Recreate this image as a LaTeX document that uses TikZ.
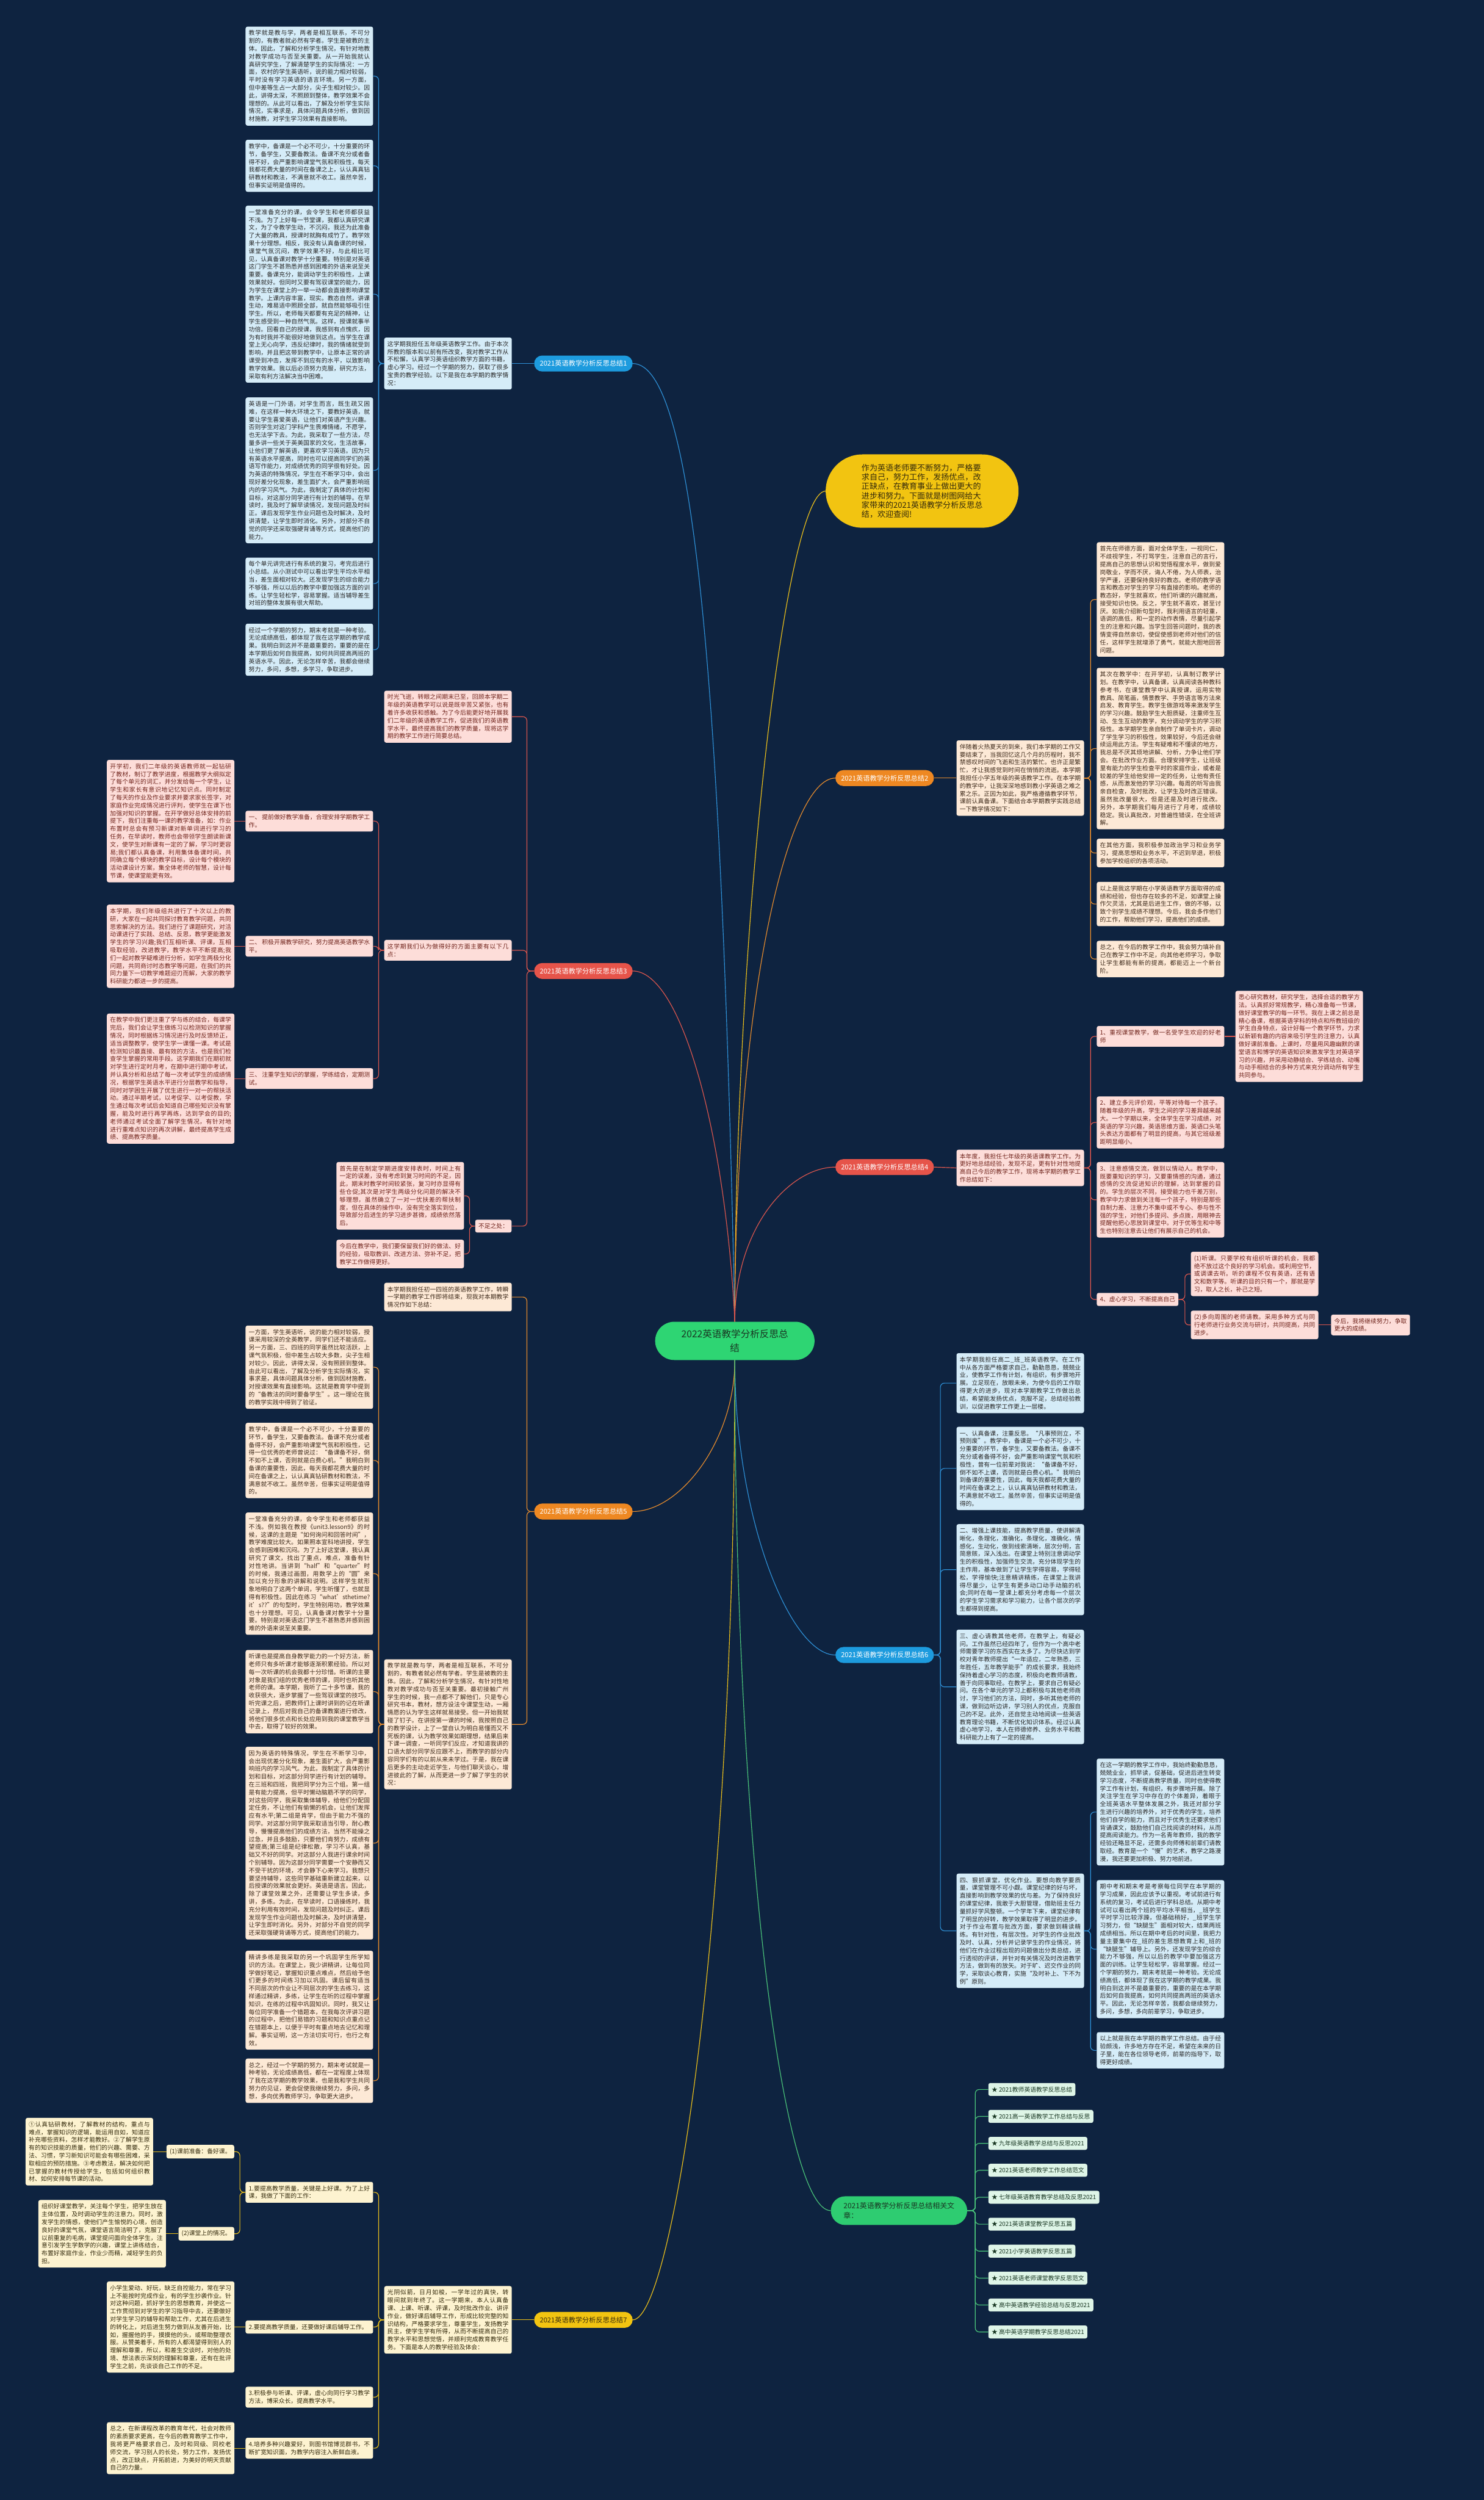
\documentclass[tikz,border=0pt]{standalone}
\usepackage{fontspec}
\setmainfont{Noto Sans CJK SC}
\XeTeXlinebreaklocale "zh"
\XeTeXlinebreakskip=0pt plus 1pt
\tolerance=9999
\hbadness=10000
\hfuzz=3pt

\definecolor{bg}{RGB}{14,35,64}
\definecolor{bluel}{RGB}{46,144,214}
\definecolor{bluepill}{RGB}{29,155,222}
\definecolor{bluefill}{RGB}{213,236,248}
\definecolor{bluetext}{RGB}{40,40,40}
\definecolor{orangel}{RGB}{231,140,45}
\definecolor{orangepill}{RGB}{238,136,34}
\definecolor{orangefill}{RGB}{253,233,214}
\definecolor{orangetext}{RGB}{62,42,26}
\definecolor{redl}{RGB}{220,86,78}
\definecolor{redpill}{RGB}{230,84,74}
\definecolor{redfill}{RGB}{253,221,217}
\definecolor{redtext}{RGB}{112,36,28}
\definecolor{yellowl}{RGB}{236,192,26}
\definecolor{yellowpill}{RGB}{242,196,17}
\definecolor{yellowfill}{RGB}{253,243,208}
\definecolor{yellowtext}{RGB}{52,42,12}
\definecolor{greenl}{RGB}{74,196,122}
\definecolor{greenpill}{RGB}{46,204,113}
\definecolor{greenfill}{RGB}{222,245,231}
\definecolor{greentext}{RGB}{25,55,35}
\definecolor{rootfill}{RGB}{46,213,115}

\begin{document}
\begin{tikzpicture}[x=1mm, y=-1mm,
  cellbase/.style={rounded corners=1.2mm, inner xsep=2mm, inner ysep=2.3mm, font=\fontsize{10.7pt}{13.94pt}\selectfont},
  cellwide/.style={cellbase, text width=76mm, align=justify},
  bluecell/.style={cellwide, fill=bluefill, text=bluetext},
  orangecell/.style={cellwide, fill=orangefill, text=orangetext},
  redcell/.style={cellwide, fill=redfill, text=redtext},
  yellowcell/.style={cellwide, fill=yellowfill, text=yellowtext},
  redtag/.style={cellbase, fill=redfill, text=redtext},
  yellowtag/.style={cellbase, fill=yellowfill, text=yellowtext},
  greentag/.style={cellbase, fill=greenfill, text=greentext},
  topic/.style={rounded corners=5mm, minimum height=10mm, inner xsep=3.5mm, inner ysep=1mm, font=\fontsize{12.2pt}{14pt}\selectfont},
  branchlink/.style={line width=0.45mm, rounded corners=2.5mm},
  rootlink/.style={line width=0.45mm}]

  \useasboundingbox (0,0) rectangle (931,1568);
  \fill[bg] (0,0) rectangle (931,1568);

  \node[fill=rootfill, text=greentext, rounded corners=12mm, minimum width=100mm, minimum height=24mm, align=center, font=\fontsize{17pt}{25pt}\selectfont] (root) at (461,841) {2022英语教学分析反思总\\结};

  \node[fill=yellowpill, text=yellowtext, rounded corners=23mm, minimum width=121mm, minimum height=46mm, align=left, font=\fontsize{14.2pt}{16.6pt}\selectfont] (lead) at (578.5,308) {作为英语老师要不断努力，严格要\\求自己，努力工作，发扬优点，改\\正缺点，在教育事业上做出更大的\\进步和努力。下面就是树图网给大\\家带来的2021英语教学分析反思总\\结，欢迎查阅!};

  \node[topic, fill=bluepill, text=white] (b1) at (366,228) {2021英语教学分析反思总结1};
  \node[topic, fill=orangepill, text=white] (b2) at (555,488) {2021英语教学分析反思总结2};
  \node[topic, fill=redpill, text=white] (b3) at (366,609) {2021英语教学分析反思总结3};
  \node[topic, fill=redpill, text=white] (b4) at (555,732) {2021英语教学分析反思总结4};
  \node[topic, fill=orangepill, text=white] (b5) at (366,948) {2021英语教学分析反思总结5};
  \node[topic, fill=bluepill, text=white] (b6) at (555,1038) {2021英语教学分析反思总结6};
  \node[topic, fill=yellowpill, text=yellowtext] (b7) at (366,1455) {2021英语教学分析反思总结7};
  \node[topic, fill=greenpill, text=greentext, rounded corners=9mm, minimum height=18mm, inner xsep=8mm, align=left, font=\fontsize{13pt}{17pt}\selectfont] (b8) at (564,1386.5) {2021英语教学分析反思总结相关文\\章：};

  \node[bluecell, anchor=west] (b1i) at (241,228) {这学期我担任五年级英语教学工作。由于本次所教的版本和以前有所改变，我对教学工作从不松懈，认真学习英语组织教学方面的书籍，虚心学习。经过一个学期的努力，获取了很多宝贵的教学经验。以下是我在本学期的教学情况：};
  \node[bluecell, anchor=west] (b1c1) at (154,47.75) {教学就是教与学，两者是相互联系，不可分割的，有教者就必然有学者。学生是被教的主体。因此，了解和分析学生情况，有针对地教对教学成功与否至关重要。从一开始我就认真研究学生，了解清楚学生的实际情况：一方面，农村的学生英语听，说的能力相对较弱，平时没有学习英语的语言环境。另一方面，但中差等生占一大部分，尖子生相对较少。因此，讲得太深，不照顾到整体，教学效果不会理想的。从此可以看出，了解及分析学生实际情况，实事求是，具体问题具体分析，做到因材施教，对学生学习效果有直接影响。};
  \node[bluecell, anchor=west] (b1c2) at (154,104) {教学中，备课是一个必不可少，十分重要的环节，备学生，又要备教法。备课不充分或者备得不好，会严重影响课堂气氛和积极性，每天我都花费大量的时间在备课之上，认认真真钻研教材和教法，不满意就不收工。虽然辛苦，但事实证明是值得的。};
  \node[bluecell, anchor=west] (b1c3) at (154,184.5) {一堂准备充分的课，会令学生和老师都获益不浅。为了上好每一节堂课，我都认真研究课文，为了令教学生动，不沉闷，我还为此准备了大量的教具，授课时就胸有成竹了。教学效果十分理想。相反，我没有认真备课的时候，课堂气氛沉闷，教学效果不好，与此相比可见，认真备课对教学十分重要。特别是对英语这门学生不甚熟悉并感到困难的外语来说至关重要。备课充分，能调动学生的积极性，上课效果就好。但同时又要有驾驭课堂的能力，因为学生在课堂上的一举一动都会直接影响课堂教学。上课内容丰富，现实。教态自然，讲课生动，难易适中照顾全部，就自然能够吸引住学生。所以，老师每天都要有充足的精神，让学生感受到一种自然气氛。这样，授课就事半功倍。回看自己的授课，我感到有点愧疚，因为有时我并不能很好地做到这点。当学生在课堂上无心向学，违反纪律时，我的情绪就受到影响，并且把这带到教学中，让原本正常的讲课受到冲击，发挥不到应有的水平，以致影响教学效果。我以后必须努力克服，研究方法，采取有利方法解决当中困难。};
  \node[bluecell, anchor=west] (b1c4) at (154,295) {英语是一门外语，对学生而言，既生疏又困难，在这样一种大环境之下，要教好英语，就要让学生喜爱英语，让他们对英语产生兴趣。否则学生对这门学科产生畏难情绪，不愿学，也无法学下去。为此，我采取了一些方法，尽量多讲一些关于英美国家的文化，生活故事，让他们更了解英语，更喜欢学习英语。因为只有英语水平提高，同时也可以提高同学们的英语写作能力，对成绩优秀的同学很有好处。因为英语的特殊情况，学生在不断学习中，会出现好差分化现象，差生面扩大，会严重影响班内的学习风气。为此，我制定了具体的计划和目标，对这部分同学进行有计划的辅导。在早读时，我及时了解早读情况，发现问题及时纠正。课后发现学生作业问题也及时解决，及时讲清楚，让学生即时消化。另外，对部分不自觉的同学还采取强硬背诵等方式，提高他们的能力。};
  \node[bluecell, anchor=west] (b1c5) at (154,366) {每个单元讲完进行有系统的复习，考完后进行小总结。从小测试中可以看出学生平均水平相当，差生面相对较大。还发现学生的综合能力不够强，所以以后的教学中要加强这方面的训练。让学生轻松学，容易掌握。适当辅导差生对班的整体发展有很大帮助。};
  \node[bluecell, anchor=west] (b1c6) at (154,407.5) {经过一个学期的努力，期末考就是一种考验。无论成绩高低，都体现了我在这学期的教学成果。我明白到这并不是最重要的，重要的是在本学期后如何自我提高，如何共同提高两班的英语水平。因此，无论怎样辛苦，我都会继续努力，多问，多想，多学习，争取进步。};

  \node[orangecell, anchor=west] (b2i) at (600,488) {伴随着火热夏天的到来，我们本学期的工作又要结束了，当我回忆这几个月的历程时，我不禁感叹时间的飞逝和生活的繁忙。也许正是繁忙，才让我感觉到时间在悄悄的流逝。本学期我担任小学五年级的英语教学工作。在本学期的教学中，让我深深地感到教小学英语之难之累之乐。正因为如此，我严格遵循教学环节，课前认真备课。下面结合本学期教学实践总结一下教学情况如下：};
  \node[orangecell, anchor=west] (b2c1) at (688,376) {首先在师德方面，面对全体学生，一视同仁，不歧视学生，不打骂学生，注意自己的言行，提高自己的思想认识和觉悟程度水平，做到爱岗敬业，学而不厌，诲人不倦，为人师表，治学严谨，还要保持良好的教态。老师的教学语言和教态对学生的学习有直接的影响。老师的教态好，学生就喜欢，他们听课的兴趣就高，接受知识也快。反之，学生就不喜欢，甚至讨厌。如我介绍新句型时，我利用语言的轻重，语调的高低，和一定的动作表情，尽量引起学生的注意和兴趣。当学生回答问题时，我的表情变得自然亲切，使促使感到老师对他们的信任，这样学生就增添了勇气，就能大胆地回答问题。};
  \node[orangecell, anchor=west] (b2c2) at (688,469.5) {其次在教学中：在开学初，认真制订教学计划。在教学中，认真备课，认真阅读各种教科参考书，在课堂教学中认真授课，运用实物教具、简笔画，情景教学、手势语言等方法来启发、教育学生。教学生做游戏等来激发学生的学习兴趣。鼓励学生大胆质疑，注重师生互动、生生互动的教学，充分调动学生的学习积极性。本学期学生亲自制作了单词卡片，调动了学生学习的积极性，效果较好，今后还会继续运用此方法。学生有疑难和不懂读的地方，我总是不厌其烦地讲解、分析，力争让他们学会。在批改作业方面。合理安排学生，让班级里有能力的学生检查平时的家庭作业，或者是较差的学生给他安排一定的任务，让他有责任感，从而激发他的学习兴趣。每周的听写由我亲自检查，及时批改，让学生及时改正错误。虽然批改量很大，但是还是及时进行批改。另外，本学期我们每月进行了月考，成绩较稳定。我认真批改，对普遍性错误，在全班讲解。};
  \node[orangecell, anchor=west] (b2c3) at (688,535) {在其他方面，我积极参加政治学习和业务学习，提高思想和业务水平，不迟到早退，积极参加学校组织的各项活动。};
  \node[orangecell, anchor=west] (b2c4) at (688,567) {以上是我这学期在小学英语教学方面取得的成绩和经验，但也存在较多的不足，如课堂上操作欠灵活，尤其是后进生工作，做的不够，以致个别学生成绩不理想。今后，我会多作他们的工作，帮助他们学习，提高他们的成绩。};
  \node[orangecell, anchor=west] (b2c5) at (688,601.5) {总之，在今后的教学工作中，我会努力填补自己在教学工作中不足，向其他老师学习，争取让学生都能有新的提高，都能迈上一个新台阶。};

  \node[redcell, anchor=west] (b3a) at (241,449.5) {时光飞逝，转眼之间期末已至，回顾本学期二年级的英语教学可以说是既辛苦又紧张，也有着许多收获和感触。为了今后能更好地开展我们二年级的英语教学工作，促进我们的英语教学水平，最终提高我们的教学质量，现将这学期的教学工作进行简要总结。};
  \node[redcell, anchor=west] (b3b) at (241,596) {这学期我们认为做得好的方面主要有以下几点：};
  \node[redtag, anchor=east] (b3n) at (321,769) {不足之处：};
  \node[redcell, anchor=west] (b3b1) at (154,515) {一、 提前做好教学准备，合理安排学期教学工作。};
  \node[redcell, anchor=west] (b3b2) at (154,593.5) {二、 积极开展教学研究，努力提高英语教学水平。};
  \node[redcell, anchor=west] (b3b3) at (154,676.5) {三、 注重学生知识的掌握，学练结合，定期测试。};
  \node[redcell, anchor=west] (b3l1) at (67,515) {开学初，我们二年级的英语教师就一起钻研了教材，制订了教学进度，根据教学大纲拟定了每个单元的词汇，并分发给每一个学生，让学生和家长有意识地记忆知识点。同时制定了每天的作业及作业要求并要求家长签字，对家庭作业完成情况进行评判，使学生在课下也加强对知识的掌握。在开学做好总体安排的前提下，我们注重每一课的教学准备，如：作业布置时总会有预习新课对新单词进行学习的任务，在早读时，教师也会带领学生朗读新课文，使学生对新课有一定的了解，学习时更容易;我们都认真备课，利用集体备课时间，共同确立每个模块的教学目标，设计每个模块的活动课设计方案，集全体老师的智慧，设计每节课，使课堂能更有效。};
  \node[redcell, anchor=west] (b3l2) at (67,593.5) {本学期，我们年级组共进行了十次以上的教研，大家在一起共同探讨教育教学问题，共同思索解决的方法。我们进行了课题研究，对活动课进行了实践、总结、反思，教学更能激发学生的学习兴趣;我们互相听课、评课，互相吸取经验，改进教学，教学水平不断提高;我们一起对教学疑难进行分析，如学生两极分化问题，共同商讨时态教学等问题，在我们的共同力量下一切教学难题迎刃而解，大家的教学科研能力都进一步的提高。};
  \node[redcell, anchor=west] (b3l3) at (67,676.5) {在教学中我们更注重了学与练的结合，每课学完后，我们会让学生做练习以检测知识的掌握情况，同时根据练习情况进行及时反馈矫正，适当调整教学，使学生学一课懂一课。考试是检测知识最直接、最有效的方法，也是我们检查学生掌握的常用手段。这学期我们在期初就对学生进行定时月考，在期中进行期中考试，并认真分析和总结了每一次考试学生的成绩情况，根据学生英语水平进行分层教学和指导，同时对学困生开展了优生进行一对一的帮扶活动。通过半期考试，以考促学、以考促教，学生通过每次考试后会知道自己哪些知识没有掌握，能及时进行再学再练，达到学会的目的;老师通过考试全面了解学生情况，有针对地进行重难点知识的再次讲解，最终提高学生成绩、提高教学质量。};
  \node[redcell, anchor=west] (b3n1) at (211,750) {首先是在制定学期进度安排表时，时间上有一定的误差，没有考虑到复习时间的不足，因此，期末时教学时间较紧张，复习时亦显得有些仓促;其次是对学生两级分化问题的解决不够理想，虽然确立了一对一优扶差的帮扶制度，但在具体的操作中，没有完全落实到位，导致部分后进生的学习进步甚微，成绩依然落后。};
  \node[redcell, anchor=west] (b3n2) at (211,786.5) {今后在教学中，我们要保留我们好的做法、好的经验，吸取教训、改进方法、弥补不足，把教学工作做得更好。};

  \node[redcell, anchor=west] (b4i) at (600,732.5) {本年度，我担任七年级的英语课教学工作。为更好地总结经验，发现不足，更有针对性地提高自己今后的教学工作，现将本学期的教学工作总结如下：};
  \node[redcell, anchor=west] (b4a) at (688,650) {1、重视课堂教学，做一名受学生欢迎的好老师};
  \node[redcell, anchor=west] (b4b) at (688,704) {2、建立多元评价观，平等对待每一个孩子。随着年级的升高，学生之间的学习差异越来越大。一个学期以来，全体学生在学习成绩，对英语的学习兴趣，英语思维方面，英语口头笔头表达方面都有了明显的提高，与其它班级差距明显缩小。};
  \node[redcell, anchor=west] (b4c) at (688,752.5) {3、注意感情交流，做到以情动人。教学中，既要重知识的学习，又要重情感的沟通，通过感情的交流促进知识的理解，达到掌握的目的。学生的层次不同，接受能力也千差万别，教学中力求做到关注每一个孩子，特别是那些自制力差、注意力不集中或不专心、参与性不强的学生，对他们多提问、多点拨，用眼神去提醒他把心思放到课堂中。对于优等生和中等生也特别注意去让他们有展示自己的机会。};
  \node[redtag, anchor=west] (b4d) at (688,815) {4、虚心学习，不断提高自己};
  \node[redcell, anchor=west] (b4a1) at (775,650) {悉心研究教材，研究学生，选择合适的教学方法。认真抓好常规教学，精心准备每一节课，做好课堂教学的每一环节。我在上课之前总是精心备课，根据英语学科的特点和所教班级的学生自身特点，设计好每一个教学环节，力求以新颖有趣的内容来吸引学生的注意力，认真做好课前准备。上课时，尽量用风趣幽默的课堂语言和博学的英语知识来激发学生对英语学习的兴趣，并采用动静结合、学练结合、动嘴与动手相结合的多种方式来充分调动所有学生共同参与。};
  \node[redcell, anchor=west] (b4d1) at (747,799) {(1)听课。只要学校有组织听课的机会，我都绝不放过这个良好的学习机会。或利用空节，或调课去听。听的课程不仅有英语，还有语文和数学等。听课的目的只有一个，那就是学习，取人之长，补己之短。};
  \node[redcell, anchor=west] (b4d2) at (747,831) {(2)多向周围的老师请教。采用多种方式与同行老师进行业务交流与研讨，共同提高，共同进步。};
  \node[redcell, anchor=west, text width=45.5mm] (b4d2a) at (835,831) {今后，我将继续努力，争取更大的成绩。};

  \node[orangecell, anchor=west] (b5i) at (241,813.5) {本学期我担任初一四班的英语教学工作，转瞬一学期的教学工作即将结束，现我对本期教学情况作如下总结：};
  \node[orangecell, anchor=west] (b5t) at (241,1081.5) {教学就是教与学，两者是相互联系，不可分割的，有教者就必然有学者。学生是被教的主体。因此，了解和分析学生情况，有针对性地教对教学成功与否至关重要。最初接触广州学生的时候，我一点都不了解他们，只是专心研究书本，教材，想方设法令课堂生动，一厢情愿的认为学生这样就易接受。但一开始我就碰了钉子。在讲授第一课的时候，我按照自己的教学设计，上了一堂自认为明白易懂而又不死板的课，认为教学效果如期理想，结果后来下课一调查，一听同学们反应，才知道我讲的口语大部分同学反应跟不上，而教学的部分内容同学们有的以前从来未学过。于是，我在课后更多的主动走近学生，与他们聊天谈心，增进彼此的了解，从而更进一步了解了学生的状况：};
  \node[orangecell, anchor=west] (b5c1) at (154,857.5) {一方面，学生英语听，说的能力相对较弱，授课采用较深的全英教学，同学们还不能适应。另一方面，三、四班的同学虽然比较活跃，上课气氛积极，但中差生占较大多数，尖子生相对较少。因此，讲得太深，没有照顾到整体。由此可以看出，了解及分析学生实际情况，实事求是，具体问题具体分析，做到因材施教，对授课效果有直接影响。这就是教育学中提到的“备教法的同时要备学生”。这一理论在我的教学实践中得到了验证。};
  \node[orangecell, anchor=west] (b5c2) at (154,916) {教学中，备课是一个必不可少，十分重要的环节，备学生，又要备教法。备课不充分或者备得不好，会严重影响课堂气氛和积极性，记得一位优秀的老师曾说过：“备课备不好，倒不如不上课，否则就是白费心机。”我明白到备课的重要性，因此，每天我都花费大量的时间在备课之上，认认真真钻研教材和教法，不满意就不收工。虽然辛苦，但事实证明是值得的。};
  \node[orangecell, anchor=west] (b5c3) at (154,987) {一堂准备充分的课，会令学生和老师都获益不浅。例如我在教授《unit3.lesson9》的时候，这课的主题是“如何询问和回答时间”，教学难度比较大。如果照本宣科地讲授，学生会感到困难和沉闷。为了上好这堂课，我认真研究了课文，找出了重点，难点，准备有针对性地讲。当讲到“half”和“quarter”时的时候，我通过画图，用数学上的“圆”来加以充分形象的讲解和说明。这样学生就形象地明白了这两个单词，学生听懂了，也就显得有积极性。因此在练习“what’sthetime?it’s??”的句型时，学生特别用功，教学效果也十分理想。可见，认真备课对教学十分重要。特别是对英语这门学生不甚熟悉并感到困难的外语来说至关重要。};
  \node[orangecell, anchor=west] (b5c4) at (154,1061) {听课也是提高自身教学能力的一个好方法，新老师只有多听课才能够逐渐积累经验。所以对每一次听课的机会我都十分珍惜。听课的主要对象是我们组的优秀老师的课，同时也听其他老师的课。本学期，我听了二十多节课，我的收获很大，逐步掌握了一些驾驭课堂的技巧。听完课之后，把教师们上课时讲到的记在听课记录上，然后对我自己的备课教案进行修改，将他们很多优点和长处应用到我的课堂教学当中去，取得了较好的效果。};
  \node[orangecell, anchor=west] (b5c5) at (154,1156) {因为英语的特殊情况，学生在不断学习中，会出现优差分化现象，差生面扩大，会严重影响班内的学习风气。为此，我制定了具体的计划和目标，对这部分同学进行有计划的辅导。在三班和四班，我把同学分为三个组。第一组是有能力提高，但平时懒动脑筋不学的同学，对这些同学，我采取集体辅导，给他们分配固定任务，不让他们有偷懒的机会，让他们发挥应有水平;第二组是肯学，但由于能力不强的同学。对这部分同学我采取适当引导，耐心教导，慢慢提高他们的成绩方法，当然不能操之过急，并且多鼓励，只要他们肯努力，成绩有望提高;第三组是纪律松散，学习不认真，基础又不好的同学。对这部分人我进行课余时间个别辅导。因为这部分同学需要一个安静而又不受干扰的环境，才会静下心来学习。我想只要坚持辅导，这些同学基础重新建立起来，以后授课的效果就会更好。英语是语言。因此，除了课堂效果之外，还需要让学生多读，多讲，多练。为此，在早读时，口语操练时，我充分利用有效时间，发现问题及时纠正。课后发现学生作业问题也及时解决，及时讲清楚，让学生即时消化。另外，对部分不自觉的同学还采取强硬背诵等方式，提高他们的能力。};
  \node[orangecell, anchor=west] (b5c6) at (154,1254.5) {精讲多练是我采取的另一个巩固学生所学知识的方法。在课堂上，我少讲精讲，让每位同学做好笔记，掌握知识重点难点，然后给予他们更多的时间练习加以巩固。课后留有适当不同层次的作业让不同层次的学生去练习，这样通过精讲，多练，让学生在听的过程中掌握知识，在练的过程中巩固知识。同时，我又让每位同学准备一个错题本，在我每次评讲习题的过程中，把他们易错的习题和知识点重点记在错题本上，以便于平时有重点地去记忆和理解。事实证明，这一方法切实可行，也行之有效。};
  \node[orangecell, anchor=west] (b5c7) at (154,1305) {总之，经过一个学期的努力，期末考试就是一种考验，无论成绩高低，都在一定程度上体现了我在这学期的教学效果，也是我和学生共同努力的见证，更会促使我继续努力，多问，多想，多向优秀教师学习，争取更大进步。};

  \node[bluecell, anchor=west] (b6c1) at (600,867.5) {本学期我担任高二\_班\_班英语教学。在工作中从各方面严格要求自己，勤勤恳恳，兢兢业业，使教学工作有计划，有组织，有步骤地开展。立足现在，放眼未来，为使今后的工作取得更大的进步，现对本学期教学工作做出总结，希望能发扬优点，克服不足，总结经验教训，以促进教学工作更上一层楼。};
  \node[bluecell, anchor=west] (b6c2) at (600,921) {一、认真备课，注重反思。“凡事预则立，不预则废”。教学中，备课是一个必不可少，十分重要的环节，备学生，又要备教法。备课不充分或者备得不好，会严重影响课堂气氛和积极性，曾有一位前辈对我说：“备课备不好，倒不如不上课，否则就是白费心机。”我明白到备课的重要性，因此，每天我都花费大量的时间在备课之上，认认真真钻研教材和教法，不满意就不收工。虽然辛苦，但事实证明是值得的。};
  \node[bluecell, anchor=west] (b6c3) at (600,984.5) {二、增强上课技能，提高教学质量，使讲解清晰化，条理化，准确化，条理化，准确化，情感化，生动化，做到线索清晰，层次分明，言简意赅，深入浅出。在课堂上特别注意调动学生的积极性，加强师生交流，充分体现学生的主作用，基本做到了让学生学得容易，学得轻松，学得愉快;注意精讲精练，在课堂上我讲得尽量少，让学生有更多动口动手动脑的机会;同时在每一堂课上都充分考虑每一个层次的学生学习需求和学习能力，让各个层次的学生都得到提高。};
  \node[bluecell, anchor=west] (b6c4) at (600,1058) {三、虚心请教其他老师，在教学上，有疑必问。工作虽然已经四年了，但作为一个高中老师需要学习的东西实在太多了。为尽快达到学校对青年教师提出“一年适应，二年熟悉，三年胜任，五年教学能手”的成长要求，我始终保持着虚心学习的态度，积极向老教师请教，善于向同事取经。在教学上，要求自己有疑必问。在各个单元的学习上都积极与其他老师商讨，学习他们的方法，同时，多听其他老师的课，做到边听边讲，学习别人的优点，克服自己的不足。此外，还自觉主动地阅读一些英语教育理论书籍，不断优化知识体系。经过认真虚心地学习，本人在师德修养、业务水平和教科研能力上有了一定的提高。};
  \node[bluecell, anchor=west] (b6c5) at (600,1211) {四、狠抓课堂，优化作业。要想向教学要质量，课堂管理不可小觑。课堂纪律的好与坏，直接影响到教学效果的优与差。为了保持良好的课堂纪律，我敢于大胆管理，借助班主任力量抓好学风整顿。一个学年下来，课堂纪律有了明显的好转，教学效果取得了明显的进步。对于作业布置与批改方面，要求做到精读精练。有针对性，有层次性。对学生的作业批改及时、认真，分析并记录学生的作业情况，将他们在作业过程出现的问题做出分类总结，进行透彻的评讲，并针对有关情况及时改进教学方法，做到有的放矢。对于旷、迟交作业的同学，采取谈心教育，实施“及时补上、下不为例”原则。};
  \node[bluecell, anchor=west] (b6s1) at (688,1136.5) {在这一学期的教学工作中，我始终勤勤恳恳，兢兢业业，抓早读，促基础，促进后进生转变学习态度，不断提高教学质量，同时也使得教学工作有计划，有组织，有步骤地开展。除了关注学生在学习中存在的个体差异，着眼于全班英语水平整体发展之外，我还对部分学生进行兴趣的培养外，对于优秀的学生，培养他们自学的能力，而且对于优秀生还要求他们背诵课文，鼓励他们自己找阅读的材料，从而提高阅读能力。作为一名青年教师，我的教学经验还略显不足，还需多向师傅和前辈们请教取经。教育是一个“慢”的艺术，教学之路漫漫，我还要更加积极、努力地前进。};
  \node[bluecell, anchor=west] (b6s2) at (688,1222.5) {期中考和期末考是考察每位同学在本学期的学习成果，因此应该予以重视。考试前进行有系统的复习，考试后进行学科总结。从期中考试可以看出两个班的平均水平相当，\_班学生平时学习比较浮躁，但基础稍好，\_班学生学习努力，但“缺腿生”面相对较大，结果两班成绩相当。所以在期中考后的时间里，我把力量主要集中在\_班的差生思想教育上和\_班的“缺腿生”辅导上。另外，还发现学生的综合能力不够强，所以以后的教学中要加强这方面的训练。让学生轻松学，容易掌握。经过一个学期的努力，期末考就是一种考验。无论成绩高低，都体现了我在这学期的教学成果。我明白到这并不是最重要的，重要的是在本学期后如何自我提高，如何共同提高两班的英语水平。因此，无论怎样辛苦，我都会继续努力，多问，多想，多向前辈学习，争取进步。};
  \node[bluecell, anchor=west] (b6s3) at (688,1286) {以上就是我在本学期的教学工作总结。由于经验颇浅，许多地方存在不足，希望在未来的日子里，能在各位领导老师，前辈的指导下，取得更好成绩。};

  \node[yellowcell, anchor=west] (b7i) at (241,1455) {光阴似箭，日月如梭，一学年过的真快，转眼间就到年终了。这一学期来，本人认真备课、上课、听课、评课，及时批改作业、讲评作业，做好课后辅导工作，形成比较完整的知识结构，严格要求学生，尊重学生，发扬教学民主，使学生学有所得，从而不断提高自己的教学水平和思想觉悟，并顺利完成教育教学任务。下面是本人的教学经验及体会：};
  \node[yellowcell, anchor=west] (b7a) at (154,1375) {1.要提高教学质量，关键是上好课。为了上好课，我做了下面的工作：};
  \node[yellowcell, anchor=west] (b7b) at (154,1459.5) {2.要提高教学质量，还要做好课后辅导工作。};
  \node[yellowcell, anchor=west] (b7c) at (154,1503.5) {3.积极参与听课、评课，虚心向同行学习教学方法，博采众长，提高教学水平。};
  \node[yellowcell, anchor=west] (b7d) at (154,1535.5) {4.培养多种兴趣爱好，到图书馆博览群书，不断扩宽知识面，为教学内容注入新鲜血液。};
  \node[yellowtag, anchor=east] (b7a1) at (147,1349.5) {(1)课前准备：备好课。};
  \node[yellowtag, anchor=east] (b7a2) at (147,1401) {(2)课堂上的情况。};
  \node[yellowcell, anchor=west] (b7a1x) at (16,1349.5) {①认真钻研教材，了解教材的结构，重点与难点，掌握知识的逻辑，能运用自如，知道应补充哪些资料，怎样才能教好。②了解学生原有的知识技能的质量，他们的兴趣、需要、方法、习惯，学习新知识可能会有哪些困难，采取相应的预防措施。③考虑教法，解决如何把已掌握的教材传授给学生，包括如何组织教材、如何安排每节课的活动。};
  \node[yellowcell, anchor=west] (b7a2x) at (24,1401) {组织好课堂教学，关注每个学生，把学生放在主体位置，及时调动学生的注意力。同时，激发学生的情感，使他们产生愉悦的心境，创造良好的课堂气氛，课堂语言简洁明了，克服了以前重复的毛病，课堂提问面向全体学生，注意引发学生学数学的兴趣，课堂上讲练结合，布置好家庭作业，作业少而精，减轻学生的负担。};
  \node[yellowcell, anchor=west] (b7b1) at (67,1459.5) {小学生爱动、好玩，缺乏自控能力，常在学习上不能按时完成作业，有的学生抄袭作业。针对这种问题，抓好学生的思想教育，并使这一工作贯彻到对学生的学习指导中去，还要做好对学生学习的辅导和帮助工作，尤其在后进生的转化上，对后进生努力做到从友善开始，比如，握握他的手，摸摸他的头，或帮助整理衣服。从赞美着手，所有的人都渴望得到别人的理解和尊重，所以，和差生交谈时，对他的处境、想法表示深刻的理解和尊重，还有在批评学生之前，先谈谈自己工作的不足。};
  \node[yellowcell, anchor=west] (b7d1) at (67,1535.5) {总之，在新课程改革的教育年代，社会对教师的素质要求更高，在今后的教育教学工作中，我将更严格要求自己，及时和同级、同校老师交流，学习别人的长处，努力工作，发扬优点，改正缺点，开拓前进，为美好的明天贡献自己的力量。};

  \foreach \t [count=\i from 0] in {2021教师英语教学反思总结, 2021高一英语教学工作总结与反思, 九年级英语教学总结与反思2021, 2021英语老师教学工作总结范文, 七年级英语教育教学总结及反思2021, 2021英语课堂教学反思五篇, 2021小学英语教学反思五篇, 2021英语老师课堂教学反思范文, 高中英语教学经验总结与反思2021, 高中英语学期教学反思总结2021}
    \node[greentag, anchor=west] (r\i) at (620,{1310.5+16.9*\i}) {★ \t};

  \draw[rootlink, bluel] (b1.east) .. controls +(40,0) and +(-8,-380) .. (root.north);
  \draw[rootlink, yellowl] (root.north) .. controls +(0,-250) and +(-25,0) .. (lead.west);
  \draw[rootlink, orangel] (root.north) .. controls +(0,-200) and +(-30,0) .. (b2.west);
  \draw[rootlink, redl] (b3.east) .. controls +(30,0) and +(-6,-120) .. (root.north);
  \draw[rootlink, redl] (root.north) .. controls +(0,-60) and +(-28,0) .. (b4.west);
  \draw[rootlink, orangel] (root.south) .. controls +(0,50) and +(30,0) .. (b5.east);
  \draw[rootlink, bluel] (root.south) .. controls +(0,100) and +(-28,0) .. (b6.west);
  \draw[rootlink, yellowl] (root.south) .. controls +(0,350) and +(25,0) .. (b7.east);
  \draw[rootlink, greenl] (root.south) .. controls +(0,300) and +(-30,0) .. (b8.west);

  \draw[branchlink, bluel] (b1.west) -- (b1i.east);
  \foreach \nd in {b1c1,b1c2,b1c3,b1c4,b1c5,b1c6}
    \draw[branchlink, bluel] (b1i.west) -- ++(-3.5,0) |- (\nd.east);

  \draw[branchlink, orangel] (b2.east) -- (b2i.west);
  \foreach \nd in {b2c1,b2c2,b2c3,b2c4,b2c5}
    \draw[branchlink, orangel] (b2i.east) -- ++(4,0) |- (\nd.west);

  \foreach \nd in {b3a,b3b,b3n}
    \draw[branchlink, redl] (b3.west) -- ++(-4.5,0) |- (\nd.east);
  \foreach \nd in {b3b1,b3b2,b3b3}
    \draw[branchlink, redl] (b3b.west) -- ++(-3.5,0) |- (\nd.east);
  \draw[branchlink, redl] (b3b1.west) -- (b3l1.east);
  \draw[branchlink, redl] (b3b2.west) -- (b3l2.east);
  \draw[branchlink, redl] (b3b3.west) -- (b3l3.east);
  \foreach \nd in {b3n1,b3n2}
    \draw[branchlink, redl] (b3n.west) -- ++(-3.5,0) |- (\nd.east);

  \draw[branchlink, redl] (b4.east) -- (b4i.west);
  \foreach \nd in {b4a,b4b,b4c,b4d}
    \draw[branchlink, redl] (b4i.east) -- ++(4,0) |- (\nd.west);
  \draw[branchlink, redl] (b4a.east) -- (b4a1.west);
  \foreach \nd in {b4d1,b4d2}
    \draw[branchlink, redl] (b4d.east) -- ++(4,0) |- (\nd.west);
  \draw[branchlink, redl] (b4d2.east) -- (b4d2a.west);

  \foreach \nd in {b5i,b5t}
    \draw[branchlink, orangel] (b5.west) -- ++(-4.5,0) |- (\nd.east);
  \foreach \nd in {b5c1,b5c2,b5c3,b5c4,b5c5,b5c6,b5c7}
    \draw[branchlink, orangel] (b5t.west) -- ++(-3.5,0) |- (\nd.east);

  \foreach \nd in {b6c1,b6c2,b6c3,b6c4,b6c5}
    \draw[branchlink, bluel] (b6.east) -- ++(4,0) |- (\nd.west);
  \foreach \nd in {b6s1,b6s2,b6s3}
    \draw[branchlink, bluel] (b6c5.east) -- ++(4,0) |- (\nd.west);

  \draw[branchlink, yellowl] (b7.west) -- (b7i.east);
  \foreach \nd in {b7a,b7b,b7c,b7d}
    \draw[branchlink, yellowl] (b7i.west) -- ++(-3.5,0) |- (\nd.east);
  \foreach \nd in {b7a1,b7a2}
    \draw[branchlink, yellowl] (b7a.west) -- ++(-3.5,0) |- (\nd.east);
  \draw[branchlink, yellowl] (b7a1.west) -- (b7a1x.east);
  \draw[branchlink, yellowl] (b7a2.west) -- (b7a2x.east);
  \draw[branchlink, yellowl] (b7b.west) -- (b7b1.east);
  \draw[branchlink, yellowl] (b7d.west) -- (b7d1.east);

  \foreach \i in {0,...,9}
    \draw[branchlink, greenl] (b8.east) -- ++(5,0) |- (r\i.west);
\end{tikzpicture}
\end{document}
